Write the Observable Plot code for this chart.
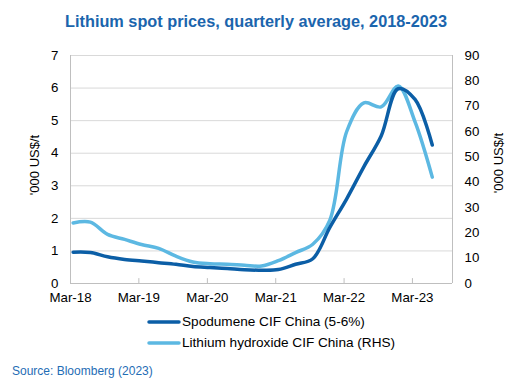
<!DOCTYPE html>
<html>
<head>
<meta charset="utf-8">
<script src="https://cdn.jsdelivr.net/npm/d3@7"></script>
<script src="https://cdn.jsdelivr.net/npm/@observablehq/plot@0.6"></script>
<style>
  body { margin: 0; width: 530px; height: 388px; position: relative; background: #fff; font-family: "Liberation Sans", Arial, sans-serif; overflow: hidden; }
  #title { position: absolute; top: 12px; left: 0; width: 512px; text-align: center; font-weight: bold; font-size: 16.3px; color: #1b65ad; white-space: nowrap; }
  #chart { position: absolute; top: 40px; left: 0; }
  .ylab { position: absolute; font-size: 13px; color: #000; white-space: nowrap; transform: translate(-50%, -50%) rotate(-90deg); }
  .leg { position: absolute; left: 147px; font-size: 13.6px; color: #000; display: flex; align-items: center; white-space: nowrap; }
  .leg svg { margin-right: 1px; }
  #source { position: absolute; left: 12px; top: 364px; font-size: 12px; color: #1f6db5; white-space: nowrap; }
</style>
</head>
<body>
<div id="title">Lithium spot prices, quarterly average, 2018-2023</div>
<div id="chart"></div>
<div class="ylab" style="left:33.5px; top:165px">'000 US$/t</div>
<div class="ylab" style="left:497.5px; top:163px">'000 US$/t</div>
<div class="leg" style="top:314px"><svg width="34" height="8"><line x1="2" x2="32" y1="4" y2="4" stroke="#0b5ea6" stroke-width="3.5" stroke-linecap="round"/></svg>Spodumene CIF China (5-6%)</div>
<div class="leg" style="top:335px"><svg width="34" height="8"><line x1="2" x2="32" y1="4" y2="4" stroke="#5cb8e2" stroke-width="3.5" stroke-linecap="round"/></svg>Lithium hydroxide CIF China (RHS)</div>
<div id="source">Source: Bloomberg (2023)</div>
<script>
// Quarterly observations
const quarters = [
  "2018-03-15","2018-06-15","2018-09-15","2018-12-15",
  "2019-03-15","2019-06-15","2019-09-15","2019-12-15",
  "2020-03-15","2020-06-15","2020-09-15","2020-12-15",
  "2021-03-15","2021-06-15","2021-09-15","2021-12-15",
  "2022-03-15","2022-06-15","2022-09-15","2022-12-15",
  "2023-03-15","2023-06-15"
];
// Spodumene CIF China (5-6%), '000 US$/t (LHS)
const spodumene = [0.96, 0.95, 0.82, 0.74, 0.69, 0.64, 0.59, 0.52, 0.49, 0.46, 0.42, 0.41,
                   0.43, 0.59, 0.76, 1.72, 2.60, 3.59, 4.53, 5.98, 5.65, 4.25];
// Lithium hydroxide CIF China, '000 US$/t (RHS)
const hydroxide = [23.9, 24.2, 19.4, 17.4, 15.4, 13.9, 10.8, 8.5, 7.8, 7.6, 7.2, 6.9,
                   9.0, 12.2, 15.5, 25.0, 60.0, 71.3, 69.7, 78.0, 63.8, 42.0];
const leftTicks = [0, 1, 2, 3, 4, 5, 6, 7];
const rightTicks = [0, 10, 20, 30, 40, 50, 60, 70, 80, 90];
const xTickLabels = ["2018-03-01","2019-03-01","2020-03-01","2021-03-01","2022-03-01","2023-03-01"];
const xDomain = ["2018-03-01", "2023-10-01"];

const LMAX = 7, RMAX = 90;
const toLeft = v => v * LMAX / RMAX;

const parse = s => new Date(s + "T00:00:00Z");
const dataS = quarters.map((q, i) => ({date: parse(q), value: spodumene[i]}));
const dataH = quarters.map((q, i) => ({date: parse(q), value: toLeft(hydroxide[i])}));
const xTicks = xTickLabels.map(parse);
const dom = xDomain.map(parse);

const dark = "#0b5ea6", light = "#5cb8e2", frame = "#bfbfbf", grid = "#d9d9d9";

const chart = Plot.plot({
  width: 530,
  height: 275,
  marginTop: 15,
  marginBottom: 32,
  marginLeft: 70,
  marginRight: 78,
  style: {fontFamily: "'Liberation Sans', Arial, sans-serif", fontSize: "13.3px", color: "#000", background: "transparent", overflow: "visible"},
  x: {type: "utc", domain: dom},
  y: {domain: [0, LMAX]},
  marks: [
    Plot.gridY(leftTicks.slice(1), {stroke: grid, strokeOpacity: 1}),
    Plot.ruleX(dom, {stroke: frame, strokeOpacity: 1}),
    Plot.ruleY([0], {stroke: frame}),
    Plot.ruleX(xTicks, {y1: 0, y2: 0.15, stroke: frame}),
    Plot.axisX(xTicks, {tickSize: 0, tickPadding: 9, tickFormat: d3.utcFormat("%b-%y"), label: null, fill: "#000"}),
    Plot.axisY(leftTicks, {anchor: "left", tickSize: 0, tickPadding: 12, label: null, fill: "#000"}),
    Plot.axisY(rightTicks.map(toLeft), {anchor: "right", tickSize: 0, tickPadding: 12, tickFormat: d => Math.round(d * RMAX / LMAX), label: null, fill: "#000"}),
    Plot.line(dataH, {x: "date", y: "value", stroke: light, strokeWidth: 3.5, curve: "catmull-rom"}),
    Plot.line(dataS, {x: "date", y: "value", stroke: dark, strokeWidth: 3.5, curve: "catmull-rom"})
  ]
});
document.getElementById("chart").appendChild(chart);
</script>
</body>
</html>
